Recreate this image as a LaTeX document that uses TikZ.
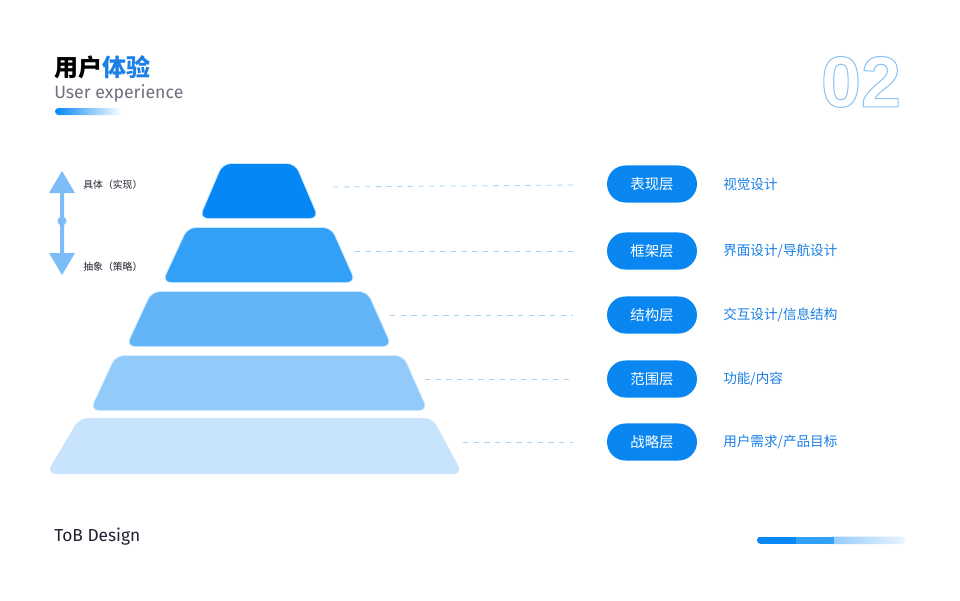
\documentclass[tikz,border=0pt]{standalone}
\usepackage{fontspec}
\setmainfont{Noto Sans CJK SC}
\newfontfamily\dinfont{Fira Sans}
\newfontfamily\numfont{Liberation Sans}
\definecolor{tblue}{RGB}{27,127,229}
\definecolor{pillblue}{RGB}{10,134,240}
\definecolor{lone}{RGB}{5,136,246}
\definecolor{ltwo}{RGB}{51,160,247}
\definecolor{lthree}{RGB}{99,181,248}
\definecolor{lfour}{RGB}{146,203,250}
\definecolor{lfive}{RGB}{199,228,252}
\definecolor{lfiveedge}{RGB}{165,210,250}
\definecolor{arrowblue}{RGB}{124,189,247}
\definecolor{guideblue}{RGB}{166,212,242}
\definecolor{subgray}{RGB}{112,112,128}
\definecolor{inkdark}{RGB}{34,34,50}
% stroked (hollow) text
\newcommand\hollow[1]{\special{pdf:literal direct 1 Tr 0.8 w 0.55 0.77 0.96 RG}#1\special{pdf:literal direct 0 Tr}}

\begin{document}
\begin{tikzpicture}[x=0.75pt,y=-0.75pt,
    pill/.style={draw=none,fill=pillblue,rounded corners=13.9pt,minimum width=67.5pt,
                 minimum height=27.8pt,inner sep=0pt,text=white,font=\fontsize{10.8}{13}\selectfont},
    tag/.style={anchor=west,inner sep=0pt,text=tblue,font=\fontsize{10.2}{12}\selectfont},
    note/.style={anchor=west,inner sep=0pt,text=inkdark,font=\fontsize{7.4}{9}\selectfont},
    guide/.style={guideblue,line width=0.6pt,dash pattern=on 4pt off 4pt},
    layer/.style={rounded corners=6pt}]
    \useasboundingbox (0,0) rectangle (960,600);
    \fill[white] (0,0) rectangle (960,600);

    % --- heading ---
    \node[anchor=west,inner sep=0pt,font=\fontsize{18}{20}\selectfont\bfseries] (title) at (54,67)
        {用户\textcolor{tblue}{体验}};
    \node[anchor=west,inner sep=0pt,text=subgray,font=\dinfont\fontsize{13.3}{15}\selectfont] (subtitle) at (54,93)
        {User experience};
    \shade[left color=lone,right color=white,rounded corners=2.6pt] (55,108) rectangle (122,115);
    \node[inner sep=0pt,font=\numfont\bfseries\fontsize{54}{56}\selectfont] (num) at (861,82)
        {\hollow{02}};

    % --- left arrow: concrete / abstract ---
    \fill[arrowblue] (62,171) -- (75,193) -- (64,193) -- (64,253) -- (75,253) -- (62,275)
        -- (49,253) -- (60,253) -- (60,193) -- (49,193) -- cycle;
    \fill[arrowblue] (62,221) circle (4.5);
    \node[note] (concrete) at (83,185) {具体（实现）};
    \node[note] (abstract) at (83,267) {抽象（策略）};

    % --- layer 5: bottom, widest ---
    \draw[layer,lfiveedge,line width=1.5pt,opacity=0.6] (80,419) -- (432,419) -- (461,473) -- (48,473) -- cycle;
    \fill[layer,lfive] (80,419) -- (432,419) -- (461,473) -- (48,473) -- cycle;
    % --- layer 4 ---
    \draw[layer,lfour,line width=1.5pt,opacity=0.35] (116,356) -- (403,356) -- (427,410) -- (91,410) -- cycle;
    \fill[layer,lfour] (116,356) -- (403,356) -- (427,410) -- (91,410) -- cycle;
    % --- layer 3 ---
    \draw[layer,lthree,line width=1.5pt,opacity=0.3] (152,292) -- (367,292) -- (391,346) -- (127,346) -- cycle;
    \fill[layer,lthree] (152,292) -- (367,292) -- (391,346) -- (127,346) -- cycle;
    % --- layer 2 ---
    \draw[layer,ltwo,line width=1.5pt,opacity=0.25] (188,228) -- (331,228) -- (355,282) -- (163,282) -- cycle;
    \fill[layer,ltwo] (188,228) -- (331,228) -- (355,282) -- (163,282) -- cycle;
    % --- layer 1: top ---
    \draw[layer,lone,line width=1.5pt,opacity=0.2] (223,164) -- (295,164) -- (318,218) -- (200,218) -- cycle;
    \fill[layer,lone] (223,164) -- (295,164) -- (318,218) -- (200,218) -- cycle;

    % --- labels on the right ---
    \node[pill] (p1) at (652,184) {表现层};
    \node[pill] (p2) at (652,251) {框架层};
    \node[pill] (p3) at (652,315) {结构层};
    \node[pill] (p4) at (652,379) {范围层};
    \node[pill] (p5) at (652,442) {战略层};
    \node[tag] (t1) at (723,184) {视觉设计};
    \node[tag] (t2) at (723,251) {界面设计/导航设计};
    \node[tag] (t3) at (723,315) {交互设计/信息结构};
    \node[tag] (t4) at (723,379) {功能/内容};
    \node[tag] (t5) at (723,442) {用户需求/产品目标};

    % --- dashed guides from layers to labels ---
    \coordinate (s1) at (333,187);  \coordinate (e1) at (573,185);
    \coordinate (s2) at (355,251);  \coordinate (e2) at (573,251);
    \coordinate (s3) at (390,315);  \coordinate (e3) at (573,315);
    \coordinate (s4) at (425,379);  \coordinate (e4) at (573,379);
    \coordinate (s5) at (463,442);  \coordinate (e5) at (573,442);
    \draw[guide] (s1) -- (e1);
    \draw[guide] (s2) -- (e2);
    \draw[guide] (s3) -- (e3);
    \draw[guide] (s4) -- (e4);
    \draw[guide] (s5) -- (e5);

    % --- footer ---
    \node[anchor=west,inner sep=0pt,text=inkdark,font=\dinfont\fontsize{13}{15}\selectfont] (brand) at (54,537)
        {ToB Design};
    \begin{scope}
        \clip[rounded corners=2.8pt] (757,536.5) rectangle (905,544);
        \shade[left color=lfour,right color=lfive!40] (831,536.5) rectangle (905,544);
        \fill[ltwo] (793,536.5) rectangle (834,544);
        \fill[lone] (757,536.5) rectangle (796,544);
    \end{scope}
\end{tikzpicture}
\end{document}
